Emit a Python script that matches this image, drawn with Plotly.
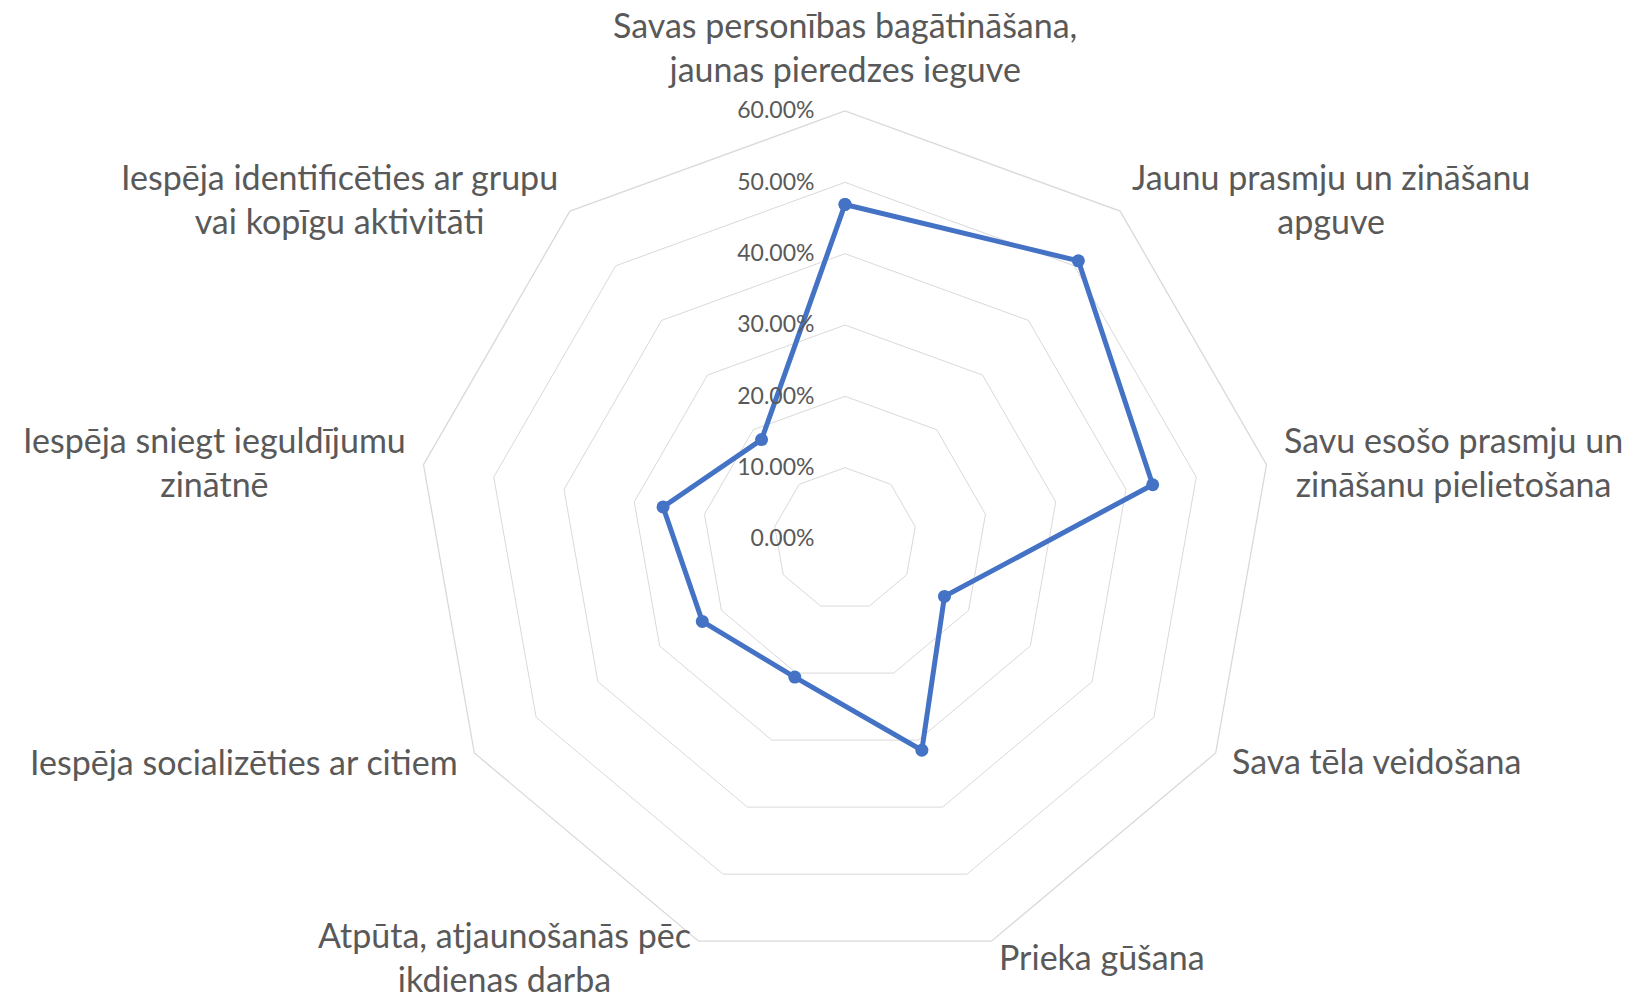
import math
import plotly.graph_objects as go

categories = [
    "Savas personības bagātināšana,<br>jaunas pieredzes ieguve",
    "Jaunu prasmju un zināšanu<br>apguve",
    "Savu esošo prasmju un<br>zināšanu pielietošana",
    "Sava tēla veidošana",
    "Prieka gūšana",
    "Atpūta, atjaunošanās pēc<br>ikdienas darba",
    "Iespēja socializēties ar citiem",
    "Iespēja sniegt ieguldījumu<br>zinātnē",
    "Iespēja identificēties ar grupu<br>vai kopīgu aktivitāti",
]
values = [46.9, 50.9, 43.8, 16.1, 31.5, 20.6, 23.1, 25.9, 18.2]
tick_values = [0, 10, 20, 30, 40, 50, 60]
tick_text = [f"{v:.2f}%" for v in tick_values]

W, H = 1643, 998
CX, CY, R = 845, 539, 428  # polar centre / radius in pixels
dom_x = [(CX - R) / W, (CX + R) / W]
dom_y = [1 - (CY + R) / H, 1 - (CY - R) / H]

TEXT = "#595959"
GRID = "#D9D9D9"
BLUE = "#4472C4"

fig = go.Figure()
fig.add_trace(go.Scatterpolar(
    r=values + values[:1],
    theta=categories + categories[:1],
    mode="lines+markers",
    line=dict(color=BLUE, width=5),
    marker=dict(color=BLUE, size=13),
    hoverinfo="skip",
    showlegend=False,
))

n = len(categories)
# category labels placed around the outer ring
annotations = []
for i, label in enumerate(categories):
    ang = 2 * math.pi * i / n
    s, c = math.sin(ang), math.cos(ang)
    rr = R + 16
    if s > 0.1:
        xa = "left"
    elif s < -0.1:
        xa = "right"
    else:
        xa = "center"
    if c > 0.9:
        ya = "bottom"
        rr = R + 20
    else:
        ya = "middle"
    px = CX + rr * s
    py = CY - rr * c
    annotations.append(dict(
        x=px / W, y=1 - py / H, xref="paper", yref="paper",
        text=label, showarrow=False, xanchor=xa, yanchor=ya, align="center",
        font=dict(family="Lato", size=34, color=TEXT),
    ))

fig.update_layout(
    width=W, height=H,
    margin=dict(l=0, r=0, t=0, b=0),
    paper_bgcolor="white",
    plot_bgcolor="white",
    font=dict(family="Lato", color=TEXT),
    annotations=annotations,
    polar=dict(
        domain=dict(x=dom_x, y=dom_y),
        bgcolor="white",
        gridshape="linear",
        radialaxis=dict(
            range=[0, 60],
            tickvals=tick_values,
            ticktext=tick_text,
            angle=90,
            side="counterclockwise",
            showline=False,
            showgrid=True,
            gridcolor=GRID,
            gridwidth=1.3,
            ticks="outside",
            ticklen=22,
            tickcolor="rgba(0,0,0,0)",
            tickfont=dict(family="Lato", size=23, color=TEXT),
            tickangle=90,
        ),
        angularaxis=dict(
            type="category",
            direction="clockwise",
            rotation=90,
            showticklabels=False,
            ticks="",
            showgrid=False,
            showline=True,
            linecolor=GRID,
            linewidth=1.3,
        ),
    ),
)

fig.write_html(
    "out.html",
    config={"displayModeBar": False},
    post_script="document.body.style.margin='0';document.body.style.overflow='hidden';",
)
